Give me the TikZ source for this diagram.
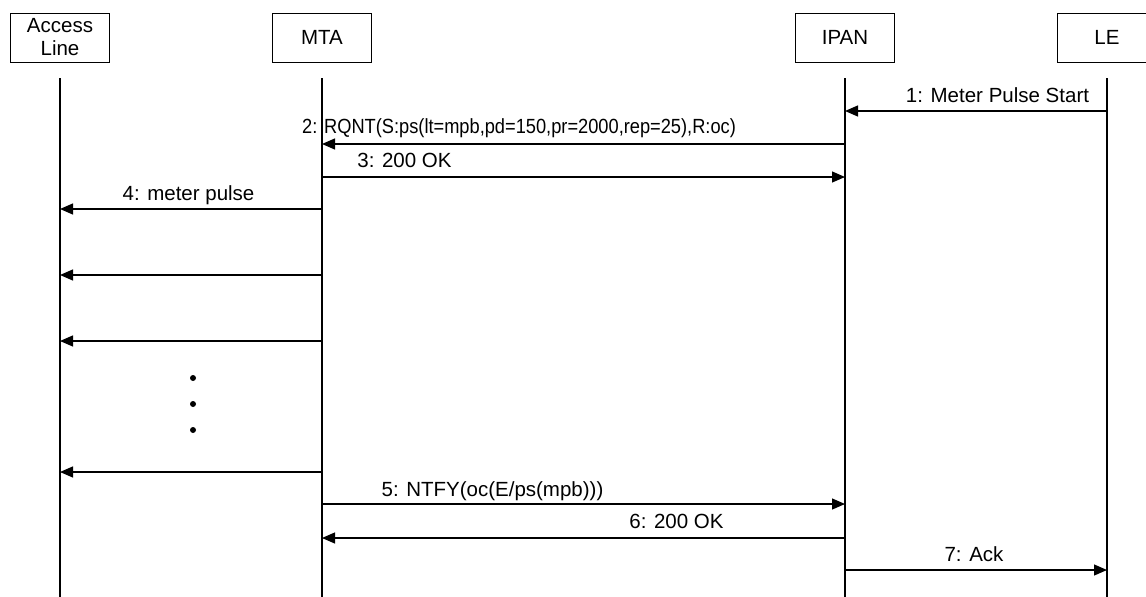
\documentclass[tikz,border=0pt]{standalone}
\usepackage{fontspec}
\setmainfont{Liberation Sans}
\usetikzlibrary{arrows.meta}
\begin{document}
\begin{tikzpicture}[x=1pt,y=-1pt,
  every node/.style={font=\fontsize{20.5}{24}\selectfont},
  actor/.style={draw,line width=1pt,minimum width=99pt,minimum height=49pt,inner sep=0pt,align=center,font=\fontsize{20.5}{23}\selectfont},
  life/.style={line width=1.2pt},
  msg/.style={line width=1.2pt,-{Triangle[length=13pt,width=11pt]}},
  lbl/.style={anchor=base,inner sep=0pt},
  dotmark/.style={circle,fill=black,inner sep=0pt,minimum size=6pt}]
\useasboundingbox (0,0) rectangle (1146,597);
\begin{scope}
\clip (0,0) rectangle (1146,597);
% actors
\node[actor] (al) at (60,37.5) {Access\\Line};
\node[actor] (mta) at (322,37.5) {MTA};
\node[actor] (ipan) at (845,37.5) {IPAN};
\node[actor] (le) at (1107,37.5) {LE};
% lifeline coordinates
\coordinate (alT) at (60,78);   \coordinate (alB) at (60,597);
\coordinate (mtaT) at (322,78); \coordinate (mtaB) at (322,597);
\coordinate (ipanT) at (845,78);\coordinate (ipanB) at (845,597);
\coordinate (leT) at (1107,78); \coordinate (leB) at (1107,597);
\draw[life] (alT) -- (alB);
\draw[life] (mtaT) -- (mtaB);
\draw[life] (ipanT) -- (ipanB);
\draw[life] (leT) -- (leB);
\end{scope}
% message anchor points
\foreach \y in {111,144,177,209,275,341,472,504,538,570}{
  \coordinate (al\y) at (60,\y);
  \coordinate (mta\y) at (322,\y);
  \coordinate (ipan\y) at (845,\y);
  \coordinate (le\y) at (1107,\y);
}
% 1
\draw[msg] (le111) -- (ipan111);
\node[lbl] (l1) at (997.5,102) {1: Meter Pulse Start};
% 2
\draw[msg] (ipan144) -- (mta144);
\node[lbl,anchor=base west] (l2) at (302,133) {\scalebox{0.89}[1]{2: RQNT(S:ps(lt=mpb,pd=150,pr=2000,rep=25),R:oc)}};
% 3
\draw[msg] (mta177) -- (ipan177);
\node[lbl] (l3) at (404.5,167) {3: 200 OK};
% 4
\draw[msg] (mta209) -- (al209);
\node[lbl] (l4) at (188.5,200) {4: meter pulse};
\draw[msg] (mta275) -- (al275);
\draw[msg] (mta341) -- (al341);
% dots
\node[dotmark] (d1) at (193,378) {};
\node[dotmark] (d2) at (193,404) {};
\node[dotmark] (d3) at (193,430) {};
\draw[msg] (mta472) -- (al472);
% 5
\draw[msg] (mta504) -- (ipan504);
\node[lbl] (l5) at (492.5,496) {5: NTFY(oc(E/ps(mpb)))};
% 6
\draw[msg] (ipan538) -- (mta538);
\node[lbl] (l6) at (676.5,528) {6: 200 OK};
% 7
\draw[msg] (ipan570) -- (le570);
\node[lbl] (l7) at (974,561) {7: Ack};
\end{tikzpicture}
\end{document}
